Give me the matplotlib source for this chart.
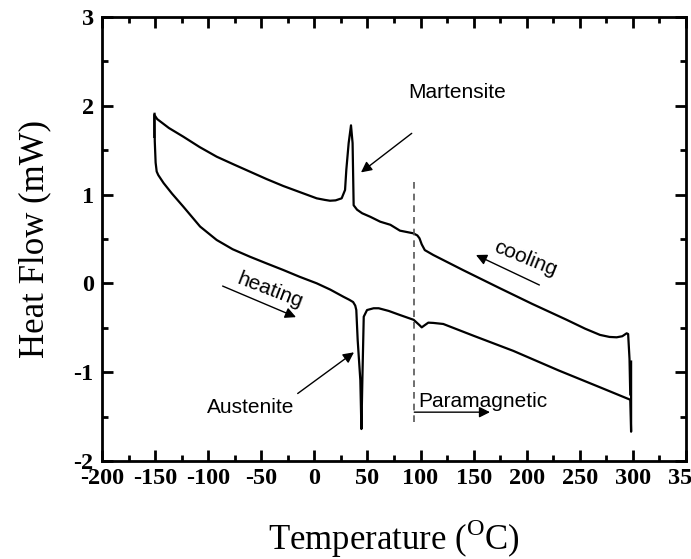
import matplotlib
matplotlib.use("Agg")
import matplotlib.pyplot as plt
from matplotlib.ticker import MultipleLocator

plt.rcParams['mathtext.fontset'] = 'custom'
plt.rcParams['mathtext.rm'] = 'Liberation Serif'

# Heating curve (T ascending)
heating_T = [-150.5, -150.3, -149.5, -148.5, -147.0, -142.0, -134.0, -123.4, -107.6, -92.0,
             -77.0, -60.6, -45.0, -29.3, -14.0, 2.2, 15.0, 27.3, 33.0, 36.5, 38.5,
             39.5, 40.8, 43.3, 44.3, 45.2, 46.5, 49.6, 55.8, 60.6, 70.0, 80.6, 93.5,
             99.0, 101.1, 104.0, 107.3, 112.0, 121.4, 150.0, 187.4, 230.0, 269.0,
             297.5, 298.3, 298.3]
heating_HF = [1.91, 1.60, 1.36, 1.26, 1.22, 1.13, 1.01, 0.864, 0.64, 0.489,
              0.385, 0.30, 0.225, 0.151, 0.075, 0.001, -0.07, -0.15, -0.185, -0.21, -0.25,
              -0.30, -0.64, -1.09, -1.64, -1.09, -0.375, -0.30, -0.28, -0.28, -0.31, -0.356, -0.41,
              -0.47, -0.495, -0.47, -0.442, -0.445, -0.457, -0.59, -0.76, -0.98, -1.17,
              -1.31, -1.67, -0.88]

# Cooling curve (T ascending)
cooling_T = [-150.8, -150.8, -148.0, -137.0, -123.4, -108.0, -92.0, -76.0, -60.6, -45.0,
             -29.3, -13.0, 2.2, 10.0, 14.7, 20.0, 25.7, 28.9, 30.1, 32.3, 34.5, 36.0,
             37.0, 40.2, 45.0, 52.7, 62.0, 71.6, 80.6, 93.2, 97.0, 99.0, 101.1, 104.0,
             112.0, 140.0, 174.8, 205.0, 237.6, 255.0, 269.0, 278.0, 284.7, 290.0, 294.1,
             295.5, 296.8, 297.5]
cooling_HF = [1.65, 1.90, 1.85, 1.75, 1.652, 1.535, 1.427, 1.34, 1.258, 1.175,
              1.097, 1.025, 0.958, 0.94, 0.931, 0.935, 0.958, 1.052, 1.28, 1.58, 1.78, 1.58,
              0.88, 0.83, 0.79, 0.75, 0.695, 0.66, 0.594, 0.564, 0.54, 0.508, 0.44, 0.375,
              0.32, 0.15, -0.055, -0.23, -0.41, -0.51, -0.58, -0.603, -0.607, -0.595, -0.562,
              -0.57, -0.85, -1.25]

dash_T = 93.5
dash_HF = [-1.56, 1.19]

xticks = [-200, -150, -100, -50, 0, 50, 100, 150, 200, 250, 300, 350]
yticks = [-2, -1, 0, 1, 2, 3]

fig = plt.figure(figsize=(6.91, 5.59), dpi=100)
ax = fig.add_axes([102/691, 98/559, 584/691, 444/559])

ax.plot(heating_T, heating_HF, color='black', lw=1.6, solid_joinstyle='round')
ax.plot(cooling_T, cooling_HF, color='black', lw=1.6, solid_joinstyle='round')
ax.plot([dash_T, dash_T], dash_HF, color='#555555', lw=1.2, dashes=(4, 3))

ax.set_xlim(-200, 350)
ax.set_ylim(-2, 3)
ax.set_xticks(xticks)
ax.set_yticks(yticks)
ax.xaxis.set_minor_locator(MultipleLocator(25))
ax.yaxis.set_minor_locator(MultipleLocator(0.5))
ax.tick_params(which='both', direction='in', top=True, right=True, width=2)
ax.tick_params(which='major', length=8)
ax.tick_params(which='minor', length=4)
ax.tick_params(axis='x', pad=5)
ax.tick_params(axis='y', pad=6)
for s in ax.spines.values():
    s.set_linewidth(2)

tfont = dict(family='Liberation Serif', weight='bold', size=17.5)
ax.set_xticklabels([str(v) for v in xticks], fontdict=tfont)
ax.set_yticklabels([str(v) for v in yticks], fontdict=tfont)

ax.set_xlabel(r'Temperature ($^{\mathrm{O}}$C)', family='Liberation Serif', size=25, labelpad=20)
ax.set_ylabel('Heat Flow (mW)', family='Liberation Serif', size=25, labelpad=16)

afont = dict(family='Liberation Sans', size=15)
arrow = dict(arrowstyle='-|>', color='black', lw=1.0, mutation_scale=16, shrinkA=0, shrinkB=0)

ax.text(88.2, 2.155, 'Martensite', ha='left', va='center', **afont)
ax.annotate('', xy=(43.9, 1.25), xytext=(91.7, 1.69), arrowprops=arrow)

ax.text(-59.6, -1.40, 'Austenite', ha='center', va='center', **afont)
ax.annotate('', xy=(37.3, -0.776), xytext=(-15.7, -1.24), arrowprops=arrow)

ax.text(-41.5, -0.075, 'heating', ha='center', va='center', rotation=-21,
        rotation_mode='anchor', **afont)
ax.annotate('', xy=(-17.3, -0.38), xytext=(-86.4, -0.03), arrowprops=arrow)

ax.text(198.4, 0.275, 'cooling', ha='center', va='center', rotation=-22,
        rotation_mode='anchor', **afont)
ax.annotate('', xy=(152.2, 0.32), xytext=(211.9, -0.018), arrowprops=arrow)

ax.text(98.0, -1.33, 'Paramagnetic', ha='left', va='center', **afont)
ax.annotate('', xy=(165.4, -1.45), xytext=(94.1, -1.45), arrowprops=arrow)

fig.savefig('out.png', dpi=100)
